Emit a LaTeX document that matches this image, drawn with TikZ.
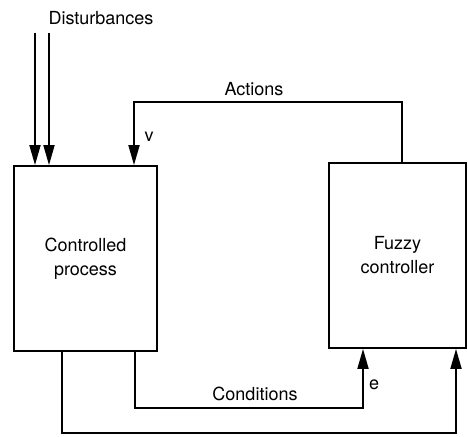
\documentclass[tikz,border=0pt]{standalone}
\usepackage{fontspec}
\setmainfont{TeX Gyre Heros}
\usetikzlibrary{arrows.meta}
\begin{document}
\begin{tikzpicture}[x=1pt,y=-1pt,
  line width=1.8pt,
  blk/.style={draw,rectangle,inner sep=0pt,align=center,font=\fontsize{18}{24}\selectfont},
  lbl/.style={font=\fontsize{18}{20}\selectfont,inner sep=0pt},
  arr/.style={-{Triangle[length=20pt,width=11pt]}}]
\useasboundingbox (0,0) rectangle (468,436);
\node[blk,minimum width=143pt,minimum height=185pt] (proc) at (85.5,258.5) {Controlled\\process};
\node[blk,minimum width=137pt,minimum height=185pt] (fuzzy) at (397.5,255.5) {Fuzzy\\controller};
% disturbances
\coordinate (d1) at (35,33);
\coordinate (d2) at (49,33);
\draw[arr] (d1) -- (proc.north -| d1);
\draw[arr] (d2) -- (proc.north -| d2);
% actions
\coordinate (a0) at (402,102);
\coordinate (a1) at (134,102);
\draw[arr] (fuzzy.north -| a0) -- (a0) -- (a1) -- (proc.north -| a1);
% conditions
\coordinate (c0) at (135,408);
\coordinate (c1) at (363,408);
\draw[arr] (proc.south -| c0) -- (c0) -- (c1) -- (fuzzy.south -| c1);
% outer
\coordinate (o0) at (62,433);
\coordinate (o1) at (456,433);
\draw[arr] (proc.south -| o0) -- (o0) -- (o1) -- (fuzzy.south -| o1);
% labels
\node[lbl] (tdist) at (101,18) {Disturbances};
\node[lbl] (tact) at (254,89) {Actions};
\node[lbl] (tv) at (149,137) {v};
\node[lbl] (te) at (374,385) {e};
\node[lbl] (tcond) at (255,394) {Conditions};
\end{tikzpicture}
\end{document}
